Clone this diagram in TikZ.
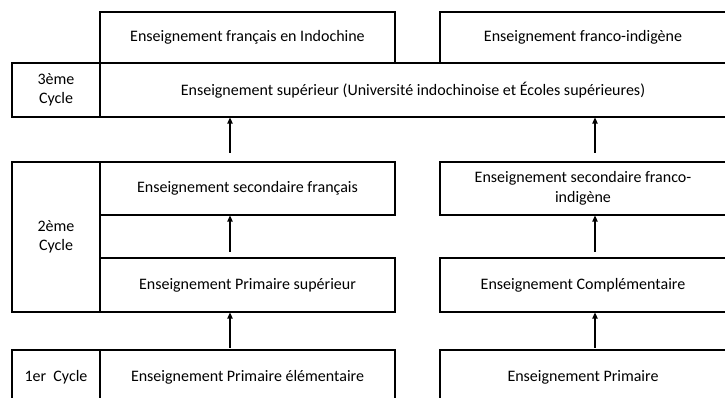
\documentclass[tikz,border=0pt]{standalone}
\usepackage{fontspec}
\setmainfont{Carlito}
\usetikzlibrary{arrows.meta}
\begin{document}
\begin{tikzpicture}[x=0.75pt,y=-0.75pt]
  \tikzstyle{box}=[rectangle,draw,line width=0.8pt,inner sep=0pt,align=center,font=\fontsize{12}{14.6}\selectfont]
  \tikzstyle{up}=[draw,line width=0.8pt,-{Triangle[length=4.5pt,width=4pt]}]
  \useasboundingbox (0,0) rectangle (725,398);
  \node [box,minimum width=221.25pt,minimum height=38.25pt] (frtop) at (247.5,37.5) {Enseignement français en Indochine};
  \node [box,minimum width=214.5pt,minimum height=38.25pt] (fitop) at (583,37.5) {Enseignement franco-indigène};
  \node [box,minimum width=66pt,minimum height=40.5pt] (cyc3) at (56,90) {3ème\\Cycle};
  \node [box,minimum width=469.5pt,minimum height=40.5pt] (sup) at (413,90) {Enseignement supérieur (Université indochinoise et Écoles supérieures)};
  \node [box,minimum width=66pt,minimum height=112.5pt] (cyc2) at (56,237) {2ème\\Cycle};
  \node [box,minimum width=221.25pt,minimum height=39.75pt] (secfr) at (247.5,188.5) {Enseignement secondaire français};
  \node [box,minimum width=214.5pt,minimum height=39.75pt] (secfi) at (583,188.5) {Enseignement secondaire franco-\\indigène};
  \node [box,minimum width=221.25pt,minimum height=40.5pt] (primsup) at (247.5,285) {Enseignement Primaire supérieur};
  \node [box,minimum width=214.5pt,minimum height=40.5pt] (compl) at (583,285) {Enseignement Complémentaire};
  \node [box,minimum width=66pt,minimum height=40.5pt] (cyc1) at (56,377) {1er~ Cycle};
  \node [box,minimum width=221.25pt,minimum height=40.5pt] (primel) at (247.5,377) {Enseignement Primaire élémentaire};
  \node [box,minimum width=214.5pt,minimum height=40.5pt] (prim) at (583,377) {Enseignement Primaire};
  \coordinate (tailL3) at (230,153);
  \coordinate (tailR3) at (595,153);
  \coordinate (tailL2) at (230,252);
  \coordinate (tailR2) at (595,252);
  \coordinate (tailL1) at (230,348);
  \coordinate (tailR1) at (595,348);
  \draw [up] (tailL3) -- (sup.south -| tailL3);
  \draw [up] (tailR3) -- (sup.south -| tailR3);
  \draw [up] (tailL2) -- (secfr.south -| tailL2);
  \draw [up] (tailR2) -- (secfi.south -| tailR2);
  \draw [up] (tailL1) -- (primsup.south -| tailL1);
  \draw [up] (tailR1) -- (compl.south -| tailR1);
\end{tikzpicture}
\end{document}
